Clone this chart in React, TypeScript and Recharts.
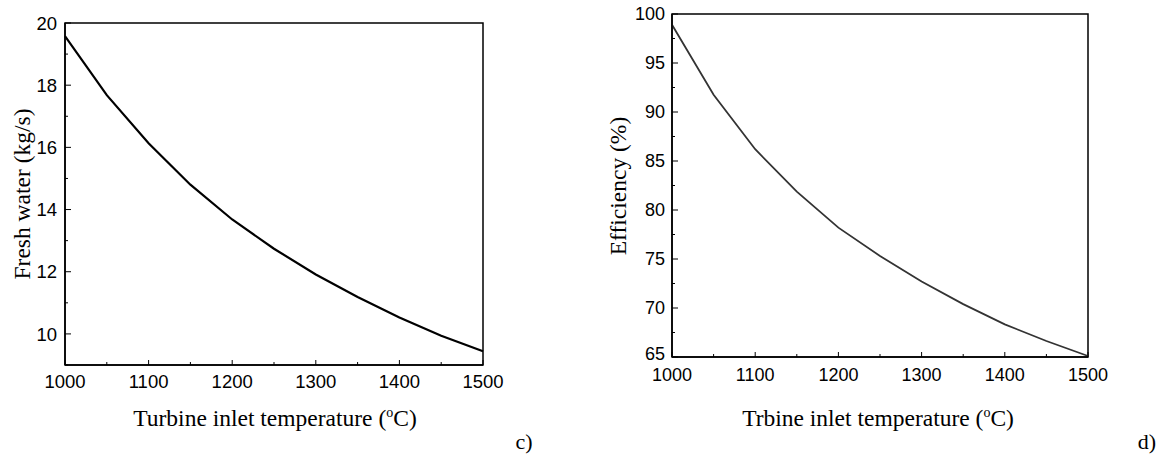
import { LineChart, Line, XAxis, YAxis, ReferenceArea } from 'recharts';

const temps = [1000, 1050, 1100, 1150, 1200, 1250, 1300, 1350, 1400, 1450, 1500];
const freshWater = [19.58, 17.68, 16.13, 14.8, 13.68, 12.74, 11.91, 11.19, 10.53, 9.94, 9.44];
const efficiency = [98.9, 91.76, 86.2, 81.88, 78.2, 75.31, 72.7, 70.4, 68.33, 66.63, 65.1];

const xTicks = [1000, 1050, 1100, 1150, 1200, 1250, 1300, 1350, 1400, 1450, 1500];
const freshTicks = [9, 10, 11, 12, 13, 14, 15, 16, 17, 18, 19, 20];
const effTicks = [65, 67.5, 70, 72.5, 75, 77.5, 80, 82.5, 85, 87.5, 90, 92.5, 95, 97.5, 100];

const freshData = temps.map((t, i) => ({ t, v: freshWater[i] }));
const effData = temps.map((t, i) => ({ t, v: efficiency[i] }));

const TICK_FONT = 'Liberation Sans, Arial, sans-serif';
const LABEL_FONT = 'Liberation Serif, Times New Roman, serif';

// inward ticks, labels only on the majors
function makeXTick(fontSize: number, dy: number) {
  return (props: any) => {
    const { x, y, payload } = props;
    const major = payload.value % 100 === 0;
    return (
      <g>
        <line x1={x} x2={x} y1={y} y2={y - (major ? 5 : 3)} stroke="#000" strokeWidth={1} />
        {major && (
          <text x={x} y={y + dy} textAnchor="middle" fontSize={fontSize} fontFamily={TICK_FONT} fill="#000">
            {payload.value}
          </text>
        )}
      </g>
    );
  };
}

// lift: extra upward shift for the bottom label so it clears the x labels
function makeYTick(fontSize: number, step: number, gap: number, bottom: number, lift: number) {
  return (props: any) => {
    const { x, y, payload } = props;
    const major = payload.value % step === 0;
    const shift = payload.value === bottom ? lift : 0;
    return (
      <g>
        <line x1={x} x2={x + (major ? 6 : 3)} y1={y} y2={y} stroke="#000" strokeWidth={1} />
        {major && (
          <text x={x - gap} y={y + fontSize * 0.36 - shift} textAnchor="end" fontSize={fontSize} fontFamily={TICK_FONT} fill="#000">
            {payload.value}
          </text>
        )}
      </g>
    );
  };
}

const abs = (left: number, top: number): React.CSSProperties => ({ position: 'absolute', left, top });

export default function App() {
  return (
    <div style={{ position: 'fixed', left: 0, top: 0, width: 1169, height: 457, background: '#fff', overflow: 'hidden' }}>
      {/* c) fresh water */}
      <div style={abs(0, 0)}>
        <LineChart width={520} height={457} data={freshData} margin={{ top: 23, right: 37, bottom: 62, left: 20 }}>
          <XAxis
            dataKey="t" type="number" domain={[1000, 1500]} ticks={xTicks} interval={0}
            height={30} tickSize={0} tickMargin={0} tickLine={false}
            axisLine={{ stroke: '#000', strokeWidth: 1.5 }}
            tick={makeXTick(18.5, 23)}
          />
          <YAxis
            type="number" domain={[9, 20]} ticks={freshTicks} interval={0}
            width={45} tickSize={0} tickMargin={0} tickLine={false}
            axisLine={{ stroke: '#000', strokeWidth: 1.5 }}
            tick={makeYTick(18.5, 2, 8, 9, 0)}
          />
          <ReferenceArea x1={1000} x2={1500} y1={9} y2={20} fill="none" stroke="#000" strokeWidth={1.5} />
          <Line dataKey="v" type="linear" stroke="#000" strokeWidth={2.2} dot={false} isAnimationActive={false} />
        </LineChart>
      </div>

      {/* d) efficiency */}
      <div style={abs(580, 0)}>
        <LineChart width={589} height={457} data={effData} margin={{ top: 14, right: 81, bottom: 70, left: 47 }}>
          <XAxis
            dataKey="t" type="number" domain={[1000, 1500]} ticks={xTicks} interval={0}
            height={30} tickSize={0} tickMargin={0} tickLine={false}
            axisLine={{ stroke: '#000', strokeWidth: 1.5 }}
            tick={makeXTick(18, 24)}
          />
          <YAxis
            type="number" domain={[65, 100]} ticks={effTicks} interval={0}
            width={45} tickSize={0} tickMargin={0} tickLine={false}
            axisLine={{ stroke: '#000', strokeWidth: 1.5 }}
            tick={makeYTick(18, 5, 7, 65, 3)}
          />
          <ReferenceArea x1={1000} x2={1500} y1={65} y2={100} fill="none" stroke="#000" strokeWidth={1.5} />
          <Line dataKey="v" type="linear" stroke="#333" strokeWidth={1.8} dot={false} isAnimationActive={false} />
        </LineChart>
      </div>

      {/* axis titles */}
      <div style={{ ...abs(22, 194), transform: 'translate(-50%, -50%) rotate(-90deg)', whiteSpace: 'nowrap', fontFamily: LABEL_FONT, fontSize: 23.5 }}>
        Fresh water (kg/s)
      </div>
      <div style={{ ...abs(275, 418), transform: 'translate(-50%, -50%)', whiteSpace: 'nowrap', fontFamily: LABEL_FONT, fontSize: 23.5 }}>
        Turbine inlet temperature (<sup style={{ fontSize: 14 }}>o</sup>C)
      </div>
      <div style={{ ...abs(618, 186), transform: 'translate(-50%, -50%) rotate(-90deg)', whiteSpace: 'nowrap', fontFamily: LABEL_FONT, fontSize: 23.5 }}>
        Efficiency (%)
      </div>
      <div style={{ ...abs(878, 418), transform: 'translate(-50%, -50%)', whiteSpace: 'nowrap', fontFamily: LABEL_FONT, fontSize: 23.5 }}>
        Trbine inlet temperature (<sup style={{ fontSize: 14 }}>o</sup>C)
      </div>
      <div style={{ ...abs(524, 442), transform: 'translate(-50%, -50%)', fontFamily: LABEL_FONT, fontSize: 22 }}>c)</div>
      <div style={{ ...abs(1147, 442), transform: 'translate(-50%, -50%)', fontFamily: LABEL_FONT, fontSize: 22 }}>d)</div>
    </div>
  );
}
